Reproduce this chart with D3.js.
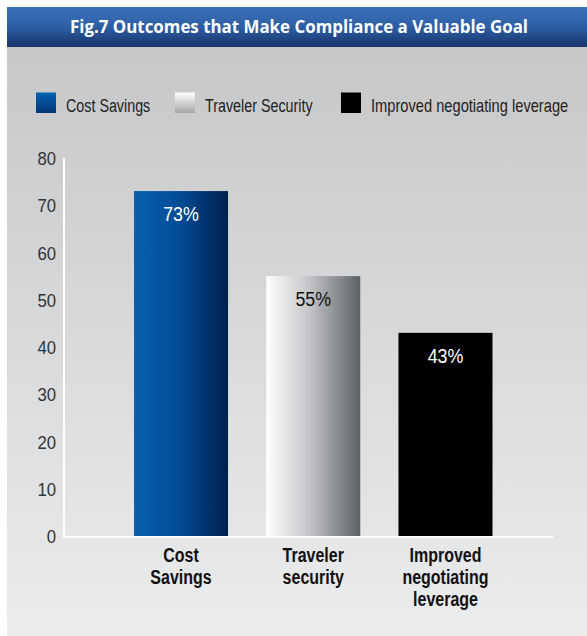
<!DOCTYPE html>
<html><head><meta charset="utf-8">
<script src="https://cdn.jsdelivr.net/npm/d3@7"></script>
<style>html,body{margin:0;padding:0;background:#fff;}svg{display:block;}</style>
</head><body>
<script>
const title = "Fig.7 Outcomes that Make Compliance a Valuable Goal";
const categories = ["Cost Savings", "Traveler security", "Improved negotiating leverage"];
const categoryLines = [["Cost", "Savings"], ["Traveler", "security"], ["Improved", "negotiating", "leverage"]];
const legendLabels = ["Cost Savings", "Traveler Security", "Improved negotiating leverage"];
const values = [73, 55, 43];
const valueLabels = ["73%", "55%", "43%"];
const yTicks = [0, 10, 20, 30, 40, 50, 60, 70, 80];

const W = 587, H = 636;
const svg = d3.select("body").append("svg").attr("width", W).attr("height", H);
const defs = svg.append("defs");

function lin(id, x2, y2, stops) {
  const g = defs.append("linearGradient").attr("id", id)
    .attr("x1", 0).attr("y1", 0).attr("x2", x2).attr("y2", y2);
  stops.forEach(s => g.append("stop").attr("offset", s[0]).attr("stop-color", s[1]));
}
lin("hdr", 0, 1, [[0, "#3d72b8"], [0.5, "#2d5ea5"], [1, "#19346a"]]);
lin("bg", 0, 1, [[0, "#c6c7c9"], [1, "#ebeced"]]);
lin("b0", 1, 0, [[0, "#0860b0"], [0.5, "#034a94"], [1, "#00204f"]]);
lin("b1", 1, 0, [[0, "#ffffff"], [0.45, "#c4c6c9"], [1, "#5c5f63"]]);
lin("b2", 1, 0, [[0, "#000"], [1, "#000"]]);
lin("l0", 0, 1, [[0, "#0562b3"], [1, "#023578"]]);
lin("l1", 0, 1, [[0, "#ffffff"], [1, "#a4a6a9"]]);
lin("l2", 0, 1, [[0, "#000"], [1, "#000"]]);

// condense a text element horizontally (no narrow font installed)
function condense(sel, k) {
  sel.each(function () {
    const t = d3.select(this);
    const x0 = +t.attr("x") || 0, y0 = +t.attr("y") || 0;
    t.attr("x", 0).attr("y", 0).attr("transform", `translate(${x0},${y0}) scale(${k},1)`);
  });
}

// panel background
svg.append("rect").attr("x", 7).attr("y", 47).attr("width", W - 7).attr("height", H - 47).attr("fill", "url(#bg)");
// header
svg.append("rect").attr("x", 7).attr("y", 7).attr("width", W - 7).attr("height", 40).attr("fill", "url(#hdr)");
svg.append("text").attr("x", 299).attr("y", 33).attr("text-anchor", "middle")
  .attr("font-family", "'Open Sans', 'DejaVu Sans', sans-serif").attr("font-weight", 700)
  .attr("font-size", 18.5).attr("fill", "#fff")
  .attr("textLength", 458).attr("lengthAdjust", "spacingAndGlyphs")
  .text(title);

const sans = "'Liberation Sans', Arial, sans-serif";

// legend
const legX = [36, 175, 341];
const leg = svg.append("g");
legendLabels.forEach((t, i) => {
  leg.append("rect").attr("x", legX[i]).attr("y", 92.5).attr("width", 20).attr("height", 20.5).attr("fill", `url(#l${i})`);
  leg.append("text").attr("x", legX[i] + 30).attr("y", 111.5)
    .attr("font-family", sans).attr("font-size", 18).attr("fill", "#222").text(t)
    .call(condense, i === 2 ? 0.815 : 0.795);
});

// scales
const y = d3.scaleLinear().domain([0, 80]).range([536, 158]);
const x = d3.scaleBand().domain(categories).range([114.9, 511.6]).paddingInner(0.289).paddingOuter(0.1445);

// y axis
const yAxis = svg.append("g").attr("transform", "translate(56,0)")
  .call(d3.axisLeft(y).tickValues(yTicks).tickSize(0).tickPadding(0).tickFormat(d3.format("d")));
yAxis.select(".domain").remove();
yAxis.selectAll("text").attr("font-family", sans).attr("font-size", 18).attr("fill", "#333")
  .attr("dy", null).attr("y", 6.5)
  .call(condense, 0.93);

// bars
svg.selectAll("rect.bar").data(values).enter().append("rect").attr("class", "bar")
  .attr("x", (d, i) => x(categories[i])).attr("width", x.bandwidth())
  .attr("y", d => y(d)).attr("height", d => y(0) - y(d))
  .attr("fill", (d, i) => `url(#b${i})`);

// value labels
svg.selectAll("text.val").data(values).enter().append("text").attr("class", "val")
  .attr("x", (d, i) => x(categories[i]) + x.bandwidth() / 2)
  .attr("y", d => y(d) + 30).attr("text-anchor", "middle")
  .attr("font-family", sans).attr("font-size", 20.5)
  .attr("fill", (d, i) => i === 1 ? "#111" : "#fff")
  .text((d, i) => valueLabels[i])
  .call(condense, 0.87);

// axis lines
svg.append("line").attr("x1", 64).attr("x2", 64).attr("y1", 158).attr("y2", 537).attr("stroke", "#fff").attr("stroke-width", 2);
svg.append("line").attr("x1", 63).attr("x2", 553).attr("y1", 537).attr("y2", 537).attr("stroke", "#fff").attr("stroke-width", 2);

// category labels
categories.forEach((c, i) => {
  categoryLines[i].forEach((ln, j) => {
    svg.append("text").attr("text-anchor", "middle")
      .attr("font-family", sans).attr("font-weight", 700).attr("font-size", 20.5).attr("fill", "#111")
      .attr("x", x(c) + x.bandwidth() / 2).attr("y", 562 + j * 22).text(ln)
      .call(condense, 0.78);
  });
});
</script>
</body></html>
